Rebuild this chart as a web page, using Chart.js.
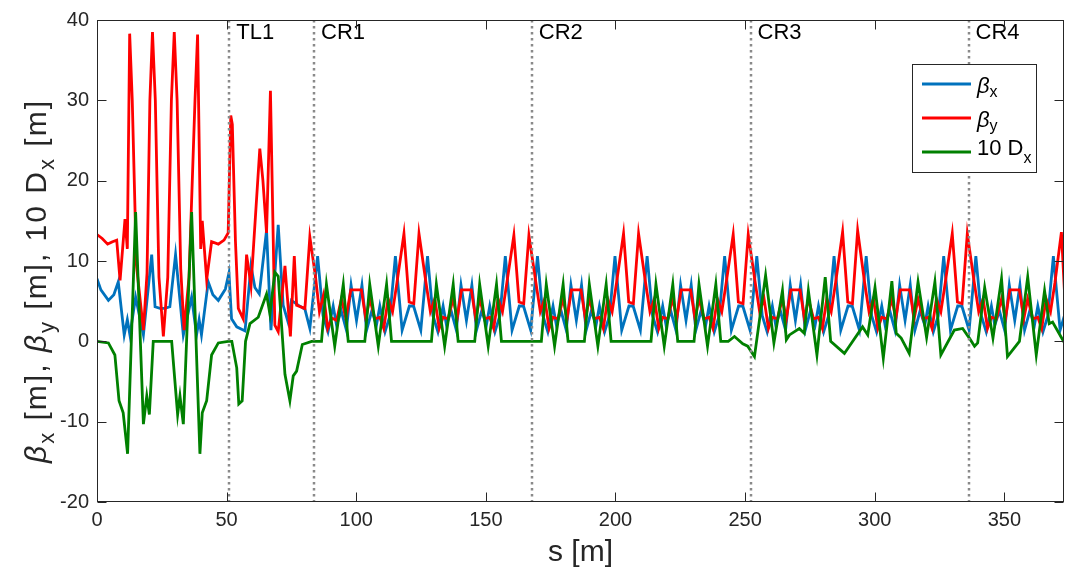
<!DOCTYPE html>
<html>
<head>
<meta charset="utf-8">
<script src="https://cdn.jsdelivr.net/npm/chart.js@4.4.1/dist/chart.umd.min.js"></script>
<style>
  html, body { margin: 0; padding: 0; background: #fff; }
  canvas { display: block; }
</style>
</head>
<body>
<canvas id="optics" width="1067" height="572"></canvas>
<script>
/* Lattice functions along the line: beta_x, beta_y and 10*D_x vs s.
   Section markers (TL1, CR1..CR4) are dotted verticals. */

const FONT = '"Liberation Sans", Arial, Helvetica, sans-serif';
const AXIS_COLOR = "#262626";
const COLORS = { bx: "#0072bd", by: "#ff0000", dx: "#008000" };

const xTicks = [0, 50, 100, 150, 200, 250, 300, 350];
const yTicks = [-20, -10, 0, 10, 20, 30, 40];

const sectionS = [51.0, 83.7, 167.7, 252.1, 336.2];
const sectionNames = ["TL1", "CR1", "CR2", "CR3", "CR4"];

// [s (m), beta_x (m)]
const betaXPts = [
  [0,7.8],[1.5,6.4],[4.4,5.1],[6.5,5.8],[8.2,7.4],[10.5,0.8],[11.7,2.7],[12.7,0.8],[14.9,5.5],[17.9,0.8],
  [21.1,10.8],[22.4,4.3],[24.3,4.1],[26.2,4.1],[28.1,4.3],[30.3,10.8],[33.3,0.8],[36.5,5.5],[38.4,0.8],[39.4,2.7],
  [40.3,0.8],[42.9,7.4],[44.7,5.8],[46.8,5.1],[49.5,6.5],[50.9,8.5],
  [51.9,2.8],[53.9,1.8],[57.1,1.3],[59.4,9.4],[60.9,6.7],[62.6,5.9],[65.4,13.8],[67.1,1.4],[69.9,14.5],[71.8,4.5],
  [73.7,2.4],[75.0,5.1],[77.6,4.5],[80.2,4.0],[82.1,1.6],
  [85.1,10.6],[87.2,3.2],[89.1,1.2],[91.1,4.4],[92.4,2.0],[94.2,3.8],[96.2,1.4],[98.0,7.0],[100.1,2.6],
  [102.2,7.0],[104.0,1.4],[106.0,3.8],[107.8,2.0],[109.1,4.4],[111.1,1.2],[113.0,3.2],[115.1,10.6],[117.7,1.4],[120.5,4.4],
  [122.1,4.4],[124.9,1.4],[127.5,10.6],[129.6,3.2],[131.5,1.2],[133.5,4.4],[134.8,2.0],[136.6,3.8],[138.6,1.4],[140.4,7.0],[142.5,2.6],
  [144.6,7.0],[146.4,1.4],[148.4,3.8],[150.2,2.0],[151.5,4.4],[153.5,1.2],[155.4,3.2],[157.5,10.6],[160.1,1.4],[162.9,4.4],
  [164.5,4.4],[167.3,1.4],[169.9,10.6],[172.0,3.2],[173.9,1.2],[175.9,4.4],[177.2,2.0],[179.0,3.8],[181.0,1.4],[182.8,7.0],[184.9,2.6],
  [186.9,7.0],[188.7,1.4],[190.7,3.8],[192.5,2.0],[193.8,4.4],[195.8,1.2],[197.7,3.2],[199.8,10.6],[202.4,1.4],[205.2,4.4],
  [206.8,4.4],[209.6,1.4],[212.2,10.6],[214.3,3.2],[216.2,1.2],[218.2,4.4],[219.5,2.0],[221.3,3.8],[223.3,1.4],[225.1,7.0],[227.2,2.6],
  [229.2,7.0],[231.0,1.4],[233.0,3.8],[234.8,2.0],[236.1,4.4],[238.1,1.2],[240.0,3.2],[242.1,10.6],[244.7,1.4],[247.5,4.4],
  [249.1,4.4],[251.9,1.4],[254.5,10.6],[256.6,3.2],[258.5,1.2],[260.5,4.4],[261.8,2.0],[263.6,3.8],[265.6,1.4],[267.4,7.0],[269.4,2.6],
  [271.4,7.0],[273.2,1.4],[275.2,3.8],[277.0,2.0],[278.3,4.4],[280.3,1.2],[282.2,3.2],[284.3,10.6],[286.9,1.4],[289.7,4.4],
  [291.3,4.4],[294.1,1.4],[296.7,10.6],[298.8,3.2],[300.7,1.2],[302.7,4.4],[304.0,2.0],[305.8,3.8],[307.8,1.4],[309.6,7.0],[311.7,2.6],
  [313.7,7.0],[315.5,1.4],[317.5,3.8],[319.3,2.0],[320.6,4.4],[322.6,1.2],[324.5,3.2],[326.6,10.6],[329.2,1.4],[332.0,4.4],
  [333.6,4.4],[336.4,1.4],[339.0,10.6],[341.1,3.2],[343.0,1.2],[345.0,4.4],[346.3,2.0],[348.1,3.8],[350.1,1.4],[351.9,7.0],[354.0,2.6],
  [356.0,7.0],[357.8,1.4],[359.8,3.8],[361.6,2.0],[362.9,4.4],[364.9,1.2],[366.8,3.2],[368.9,10.6],[371.5,1.4],[374.3,4.4]
];

// [s (m), beta_y (m)]
const betaYPts = [
  [0,13.3],[2.0,12.8],[4.1,12.1],[6.0,12.4],[7.6,12.6],[8.9,7.6],[10.8,15.2],[11.7,11.5],[12.6,38.3],[13.6,30],
  [15.2,9.5],[17.9,1.4],[19.3,8.5],[20.4,30],[21.4,38.5],[22.5,30],[23.9,8],[25.6,0.6],[27.3,8],[28.7,30],
  [29.8,38.5],[30.9,30],[32.3,9],[33.6,1.4],[35.5,8],[37.8,30],[38.8,38.2],[40.0,11.5],[40.6,15.0],[42.3,7.7],
  [44.2,12.4],[46.8,12.1],[49.0,12.6],[50.6,13.5],
  [51.6,28.1],[52.2,27.0],[53.4,12.5],[54.5,4.1],[56.4,2.8],[57.7,10.8],[59.4,6.9],[62.8,24.0],[64.0,20.0],[65.4,13.5],
  [66.9,31.2],[68.6,2.0],[69.9,1.2],[72.5,9.4],[74.6,0.6],[76.1,10.6],[77.0,4.5],[80.2,4.1],[82.1,13.0],
  [84.3,8.0],[85.8,3.7],[87.4,5.8],[89.0,1.6],[90.6,2.9],[92.4,2.6],[94.3,5.3],[96.0,2.8],[97.9,6.4],
  [102.0,6.4],[103.7,2.8],[105.2,5.3],[107.2,2.8],[109.1,3.0],[110.6,1.6],[112.3,5.3],[114.0,3.7],[115.7,7.3],[118.4,13.4],[120.4,4.9],
  [122.2,4.7],[124.2,13.4],[126.9,7.3],[128.6,3.7],[130.3,5.3],[132.0,1.6],[133.5,3.0],[135.4,2.8],[137.4,5.3],[138.9,2.8],[140.6,6.4],
  [144.4,6.4],[146.1,2.8],[147.6,5.3],[149.6,2.8],[151.5,3.0],[153.0,1.6],[154.7,5.3],[156.4,3.7],[158.1,7.3],[160.8,13.2],[162.8,4.9],
  [164.6,4.7],[166.6,13.2],[169.3,7.3],[171.0,3.7],[172.7,5.3],[174.4,1.6],[175.9,3.0],[177.8,2.8],[179.8,5.3],[181.3,2.8],[183.0,6.4],
  [186.7,6.4],[188.4,2.8],[189.9,5.3],[191.9,2.8],[193.8,3.0],[195.3,1.6],[197.0,5.3],[198.7,3.7],[200.4,7.3],[203.1,13.4],[205.1,4.9],
  [206.9,4.7],[208.9,13.4],[211.6,7.3],[213.3,3.7],[215.0,5.3],[216.7,1.6],[218.2,3.0],[220.1,2.8],[222.1,5.3],[223.6,2.8],[225.3,6.4],
  [229.0,6.4],[230.7,2.8],[232.2,5.3],[234.2,2.8],[236.1,3.0],[237.6,1.6],[239.3,5.3],[241.0,3.7],[242.7,7.3],[245.4,13.3],[247.4,4.9],
  [249.2,4.7],[251.2,13.3],[253.9,7.3],[255.6,3.7],[257.3,5.3],[259.0,1.6],[260.5,3.0],[262.4,2.8],[264.4,5.3],[265.9,2.8],[267.6,6.4],
  [271.2,6.4],[272.9,2.8],[274.4,5.3],[276.4,2.8],[278.3,3.0],[279.8,1.6],[281.5,5.3],[283.2,3.7],[284.9,7.3],[287.6,13.6],[289.6,4.9],
  [291.4,4.7],[293.4,13.8],[296.1,7.3],[297.8,3.7],[299.5,5.3],[301.2,1.6],[302.7,3.0],[304.6,2.8],[306.6,5.3],[308.1,2.8],[309.8,6.4],
  [313.5,6.4],[315.2,2.8],[316.7,5.3],[318.7,2.8],[320.6,3.0],[322.1,1.6],[323.8,5.3],[325.5,3.7],[327.2,7.3],[329.9,13.4],[331.9,4.9],
  [333.7,4.7],[335.7,13.4],[338.4,7.3],[340.1,3.7],[341.8,5.3],[343.5,1.6],[345.0,3.0],[346.9,2.8],[348.9,5.3],[350.4,2.8],[352.1,6.4],
  [355.8,6.4],[357.5,2.8],[359.0,5.3],[361.0,2.8],[362.9,3.0],[364.4,1.6],[366.1,5.3],[367.8,3.7],[369.5,7.3],[372.0,13.6],[373.4,4.8]
];

// [s (m), 10 * D_x (m)]
const dispPts = [
  [0,0],[4.4,-0.2],[6.9,-1.7],[8.5,-7.4],[10.1,-8.9],[11.8,-14.0],[14.9,16.1],[17.9,-10.3],[19.2,-6.8],[20.2,-9.1],
  [21.7,0],[28.8,0],[31.1,-9.1],[32.0,-6.8],[33.3,-10.3],[36.5,16.1],[39.7,-14.0],[40.6,-8.9],[42.3,-7.4],[44.2,-1.7],
  [46.8,-0.2],[50.6,0],
  [52.0,0],[53.9,-3.3],[54.7,-7.8],[56.0,-7.4],[57.3,0],[59.0,2.2],[62.2,3.0],[65.4,5.9],[66.7,3.4],[68.6,8.6],
  [69.9,8.1],[72.5,-4.1],[74.4,-7.4],[75.7,-4.3],[77.0,-3.7],[79.2,-0.4],[82.8,0],
  [86.6,0],[88.5,7.1],[91.7,-0.6],[95.0,7.1],[96.9,0],[103.3,0],[105.2,7.1],[108.5,-0.6],[111.7,7.1],[113.6,0],
  [129.0,0],[130.9,7.1],[134.1,-0.6],[137.4,7.1],[139.3,0],[145.7,0],[147.6,7.1],[150.9,-0.6],[154.1,7.1],[156.0,0],
  [171.4,0],[173.3,7.1],[176.5,-0.6],[179.8,7.1],[181.7,0],[188.0,0],[189.9,7.1],[193.2,-0.6],[196.4,7.1],[198.3,0],
  [213.7,0],[215.6,7.1],[218.8,-0.6],[222.1,7.1],[224.0,0],[230.3,0],[232.2,7.1],[235.5,-0.6],[238.7,7.1],[240.6,0],
  [243.5,0],[245.9,0.6],[249.1,-0.3],[251.0,-0.6],[253.6,-1.9],
  [257.9,8.2],[261.1,-0.2],[264.4,6.3],[265.9,0.2],[267.1,0.8],[270.9,1.6],[272.8,1.0],[274.4,6.3],[277.7,-1.7],[280.9,8.0],
  [283.0,0],[288.3,-1.5],[289.6,-0.9],[295.3,1.8],[297.3,0.8],[300.1,6.7],[303.3,-2.1],[306.6,7.5],[308.3,1.0],[310.2,0.4],
  [313.3,-1.5],[316.7,7.4],[320.0,0.5],[323.2,7.4],[325.5,-1.7],[330.7,1.4],[333.9,1.6],[336.5,0.4],[338.5,-0.6],[339.7,-0.2],
  [342.4,6.7],[345.6,0.4],[348.9,7.8],[351.2,-1.9],[355.8,0],[359.0,8.0],[362.3,-1.7],[365.5,6.3],[367.3,2.2],[368.6,2.4],[373.2,-0.2]
];

// text with subscripts, e.g. beta_x
function drawRich(ctx, parts, x, y, size, subDy, align, spacing) {
  const fontOf = p => (p.it ? "italic " : "") + (p.sub ? Math.round(size * 0.72) : size) + "px " + FONT;
  const gap = spacing || 0;
  const widthOf = p => { ctx.font = fontOf(p); return ctx.measureText(p.t).width + gap * p.t.length; };
  const w = parts.reduce((acc, p) => acc + widthOf(p), 0);
  let cx = align === "center" ? x - w / 2 : x;
  parts.forEach(p => {
    ctx.font = fontOf(p);
    for (const ch of p.t) {
      ctx.fillText(ch, cx, y + (p.sub ? subDy : 0));
      cx += ctx.measureText(ch).width + gap;
    }
  });
}

const decor = {
  id: "decor",
  afterDatasetsDraw(chart) {
    const { ctx, chartArea: a, scales: { x, y } } = chart;
    ctx.save();

    // section markers
    ctx.strokeStyle = "#8a8a8a";
    ctx.lineWidth = 2.5;
    ctx.setLineDash([2.5, 3.5]);
    sectionS.forEach(s => {
      const px = Math.round(x.getPixelForValue(s));
      ctx.beginPath(); ctx.moveTo(px, a.top); ctx.lineTo(px, a.bottom); ctx.stroke();
    });
    ctx.setLineDash([]);
    ctx.fillStyle = "#000";
    ctx.font = "22px " + FONT;
    ctx.textBaseline = "alphabetic";
    ctx.textAlign = "left";
    sectionNames.forEach((n, i) => ctx.fillText(n, x.getPixelForValue(sectionS[i]) + 7, 39));

    // axes box + inward ticks
    ctx.strokeStyle = AXIS_COLOR;
    ctx.lineWidth = 1;
    const L = Math.round(a.left) + 0.5, R = Math.round(a.right) - 0.5;
    const T = Math.round(a.top) + 0.5, B = Math.round(a.bottom) - 0.5;
    ctx.strokeRect(L, T, R - L, B - T);
    ctx.beginPath();
    xTicks.forEach(v => {
      const px = Math.round(x.getPixelForValue(v)) + 0.5;
      ctx.moveTo(px, B); ctx.lineTo(px, B - 9);
      ctx.moveTo(px, T); ctx.lineTo(px, T + 9);
    });
    yTicks.forEach(v => {
      const py = Math.round(y.getPixelForValue(v)) + 0.5;
      ctx.moveTo(L, py); ctx.lineTo(L + 9, py);
      ctx.moveTo(R, py); ctx.lineTo(R - 9, py);
    });
    ctx.stroke();

    // legend
    const box = { l: 912.5, t: 64.5, r: 1036.5, b: 172.5 };
    ctx.fillStyle = "#fff";
    ctx.fillRect(box.l, box.t, box.r - box.l, box.b - box.t);
    ctx.strokeStyle = AXIS_COLOR;
    ctx.strokeRect(box.l, box.t, box.r - box.l, box.b - box.t);
    const rows = [
      { c: COLORS.bx, y: 84, parts: [{ t: "β", it: true }, { t: "x", sub: true }], base: 9, sub: 4 },
      { c: COLORS.by, y: 118, parts: [{ t: "β", it: true }, { t: "y", sub: true }], base: 9, sub: 4 },
      { c: COLORS.dx, y: 152, parts: [{ t: "10 D" }, { t: "x", sub: true }], base: 3, sub: 8 }
    ];
    rows.forEach(r => {
      ctx.strokeStyle = r.c; ctx.lineWidth = 3;
      ctx.beginPath(); ctx.moveTo(922, r.y); ctx.lineTo(971, r.y); ctx.stroke();
      ctx.fillStyle = "#000";
      drawRich(ctx, r.parts, 977, r.y + r.base, 22, r.sub, "left");
    });

    // axis titles
    ctx.fillStyle = AXIS_COLOR;
    ctx.font = "30px " + FONT;
    ctx.textAlign = "center";
    ctx.fillText("s [m]", (a.left + a.right) / 2, 561);
    ctx.textAlign = "left";
    ctx.translate(46, (a.top + a.bottom) / 2 + 20);
    ctx.rotate(-Math.PI / 2);
    drawRich(ctx, [
      { t: "β", it: true }, { t: "x", sub: true }, { t: " [m], " },
      { t: "β", it: true }, { t: "y", sub: true }, { t: " [m], 10 D" },
      { t: "x", sub: true }, { t: " [m]" }
    ], 0, 0, 30, 8, "center", 2);
    ctx.restore();
  }
};

const toXY = pts => pts.map(([s, v]) => ({ x: s, y: v }));
const tickFont = { family: FONT, size: 20 };

new Chart(document.getElementById("optics"), {
  type: "line",
  data: {
    datasets: [
      { label: "beta_x", data: toXY(betaXPts), borderColor: COLORS.bx, order: 3 },
      { label: "beta_y", data: toXY(betaYPts), borderColor: COLORS.by, order: 2 },
      { label: "10 D_x", data: toXY(dispPts), borderColor: COLORS.dx, order: 1 }
    ]
  },
  options: {
    responsive: false,
    animation: false,
    devicePixelRatio: 1,
    elements: { point: { radius: 0 }, line: { borderWidth: 2.8, tension: 0, fill: false } },
    layout: { padding: { top: 15, right: 3, left: 0, bottom: 0 } },
    plugins: { legend: { display: false }, tooltip: { enabled: false } },
    scales: {
      x: {
        type: "linear", min: 0, max: 373,
        afterBuildTicks: s => { s.ticks = xTicks.map(v => ({ value: v })); },
        afterFit: s => { s.height = 70; },
        grid: { display: false, drawTicks: false },
        border: { display: false },
        ticks: { padding: 6, color: AXIS_COLOR, font: tickFont, maxRotation: 0 }
      },
      y: {
        type: "linear", min: -20, max: 40,
        afterBuildTicks: s => { s.ticks = yTicks.map(v => ({ value: v })); },
        afterFit: s => { s.width = 97; },
        grid: { display: false, drawTicks: false },
        border: { display: false },
        ticks: { padding: 8, color: AXIS_COLOR, font: tickFont }
      }
    }
  },
  plugins: [decor]
});
</script>
</body>
</html>
